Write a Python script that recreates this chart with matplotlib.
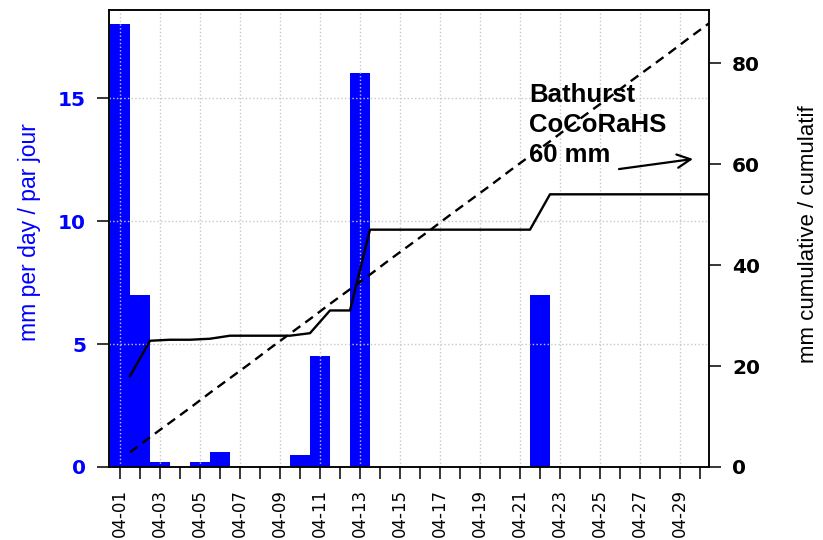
import matplotlib
matplotlib.use("Agg")
import matplotlib.pyplot as plt
import numpy as np

# day labels (April)
dates = ["04-01", "04-02", "04-03", "04-04", "04-05", "04-06", "04-07", "04-08",
         "04-09", "04-10", "04-11", "04-12", "04-13", "04-14", "04-15", "04-16",
         "04-17", "04-18", "04-19", "04-20", "04-21", "04-22", "04-23", "04-24",
         "04-25", "04-26", "04-27", "04-28", "04-29", "04-30"]

# daily precipitation, mm
daily_mm = [18.0, 7.0, 0.2, 0.0, 0.2, 0.6, 0.0, 0.0, 0.0, 0.5,
            4.5, 0.0, 16.0, 0.0, 0.0, 0.0, 0.0, 0.0, 0.0, 0.0,
            0.0, 7.0, 0.0, 0.0, 0.0, 0.0, 0.0, 0.0, 0.0, 0.0]

# observed cumulative at end of each day, mm
cum_obs = [18.0, 25.0, 25.2, 25.2, 25.4, 26.0, 26.0, 26.0, 26.0, 26.5,
           31.0, 31.0, 47.0, 47.0, 47.0, 47.0, 47.0, 47.0, 47.0, 47.0,
           47.0, 54.0, 54.0, 54.0, 54.0, 54.0, 54.0, 54.0, 54.0, 54.0]

# normal cumulative at end of each day, mm
cum_normal = [2.9, 5.9, 8.8, 11.7, 14.7, 17.6, 20.5, 23.5, 26.4, 29.3,
              32.3, 35.2, 38.1, 41.1, 44.0, 46.9, 49.9, 52.8, 55.7, 58.7,
              61.6, 64.5, 67.5, 70.4, 73.3, 76.3, 79.2, 82.1, 85.1, 88.0]

left_ticks = [0, 5, 10, 15]
right_ticks = [0, 20, 40, 60, 80]


def draw():
    fig = plt.figure(figsize=(8.23, 5.40), dpi=100)
    ax = fig.add_axes([109 / 823, 1 - 467 / 540, 600 / 823, 457 / 540])
    ax2 = ax.twinx()

    days = np.arange(1, len(dates) + 1)

    ###############bars################
    ax.bar(days, daily_mm, width=1.0, color="#0000ff", linewidth=0, zorder=1)

    ###############cumulative lines################
    ax2.plot(days + 0.5, cum_obs, color="black", linewidth=1.7, zorder=3)
    ax2.plot(days + 0.5, cum_normal, color="black", linewidth=1.7,
             linestyle=(0, (4, 2.6)), zorder=3)

    ###############axis setting################
    ax.set_xlim(0.45, 30.45)
    ax.set_ylim(0, 18.58)
    ax2.set_ylim(0, 90.5)

    ax.set_xticks(days[::2])
    ax.set_xticklabels(dates[::2], rotation=90, fontsize=12,
                       family="DejaVu Sans")
    ax.set_xticks(days[1::2], minor=True)
    ax.set_yticks(left_ticks)
    ax.set_yticklabels([str(t) for t in left_ticks], color="#0000ff",
                       fontsize=14.5, fontweight="bold", family="DejaVu Sans")
    ax2.set_yticks(right_ticks)
    ax2.set_yticklabels([str(t) for t in right_ticks], color="black",
                        fontsize=14.5, fontweight="bold", family="DejaVu Sans")

    ax.tick_params(axis="x", which="both", direction="out", length=8.6,
                   width=1.1, pad=7)
    ax.tick_params(axis="y", direction="out", length=8.6, width=1.1, pad=8)
    ax2.tick_params(axis="y", direction="out", length=8.6, width=1.1, pad=8)

    for a in (ax, ax2):
        for s in a.spines.values():
            s.set_linewidth(1.1)

    ###############grid################
    ax.grid(True, which="major", color="#c8c8c8", linestyle=":", linewidth=1.0)
    ax.set_axisbelow("line")

    ###############labels################
    ax.set_ylabel("mm per day / par jour", color="#0000ff", fontsize=16.5,
                  family="Liberation Sans")
    ax.yaxis.set_label_coords(-0.114, 0.515)
    ax2.set_ylabel("mm cumulative / cumulatif", color="black", fontsize=16,
                   family="Liberation Sans")
    ax2.yaxis.set_label_coords(1.148, 0.51)

    ###############annotation################
    ax2.text(21.45, 76.0, "Bathurst\nCoCoRaHS\n60 mm", fontsize=18.5,
             fontweight="bold", family="Liberation Sans", va="top", ha="left",
             linespacing=1.3, zorder=5)
    ax2.annotate("", xy=(29.65, 61.0), xytext=(25.95, 59.0),
                 arrowprops=dict(arrowstyle="->", color="black", lw=1.6,
                                 mutation_scale=24, shrinkA=0, shrinkB=0))

    fig.savefig("out.png", dpi=100)


if __name__ == "__main__":
    draw()
